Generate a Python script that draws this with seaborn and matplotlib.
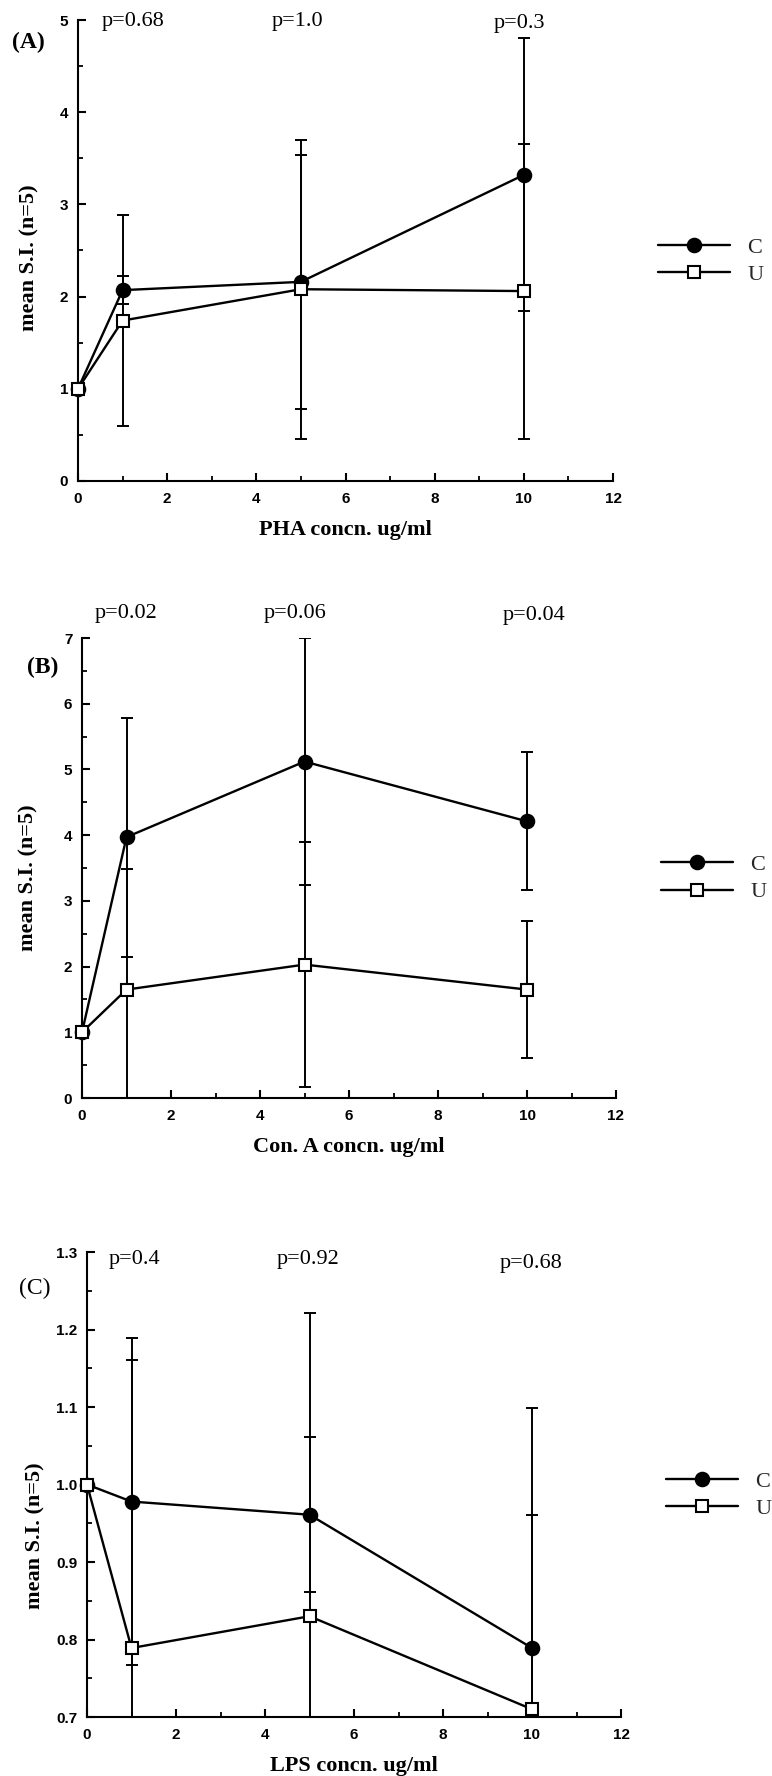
import matplotlib
matplotlib.use("Agg")
import matplotlib.pyplot as plt
from matplotlib.ticker import MultipleLocator, FormatStrFormatter
from matplotlib.transforms import blended_transform_factory
import pandas as pd
import seaborn as sns

# ---- data -------------------------------------------------------------
conc = [0, 1, 5, 10]          # mitogen concentration, ug/ml
groups = ["C", "U"]

# PHA stimulation
pha_c_mean = [1.0, 2.07, 2.16, 3.32]
pha_c_err = [0.0, 0.15, 1.38, 1.48]
pha_u_mean = [1.0, 1.74, 2.08, 2.06]
pha_u_err = [0.0, 1.14, 1.62, 1.60]
pha_p = ["p=0.68", "p=1.0", "p=0.3"]

# Con. A stimulation
cona_c_mean = [1.0, 3.97, 5.12, 4.21]
cona_c_err = [0.0, 1.82, 1.88, 1.05]
cona_u_mean = [1.0, 1.65, 2.03, 1.65]
cona_u_err = [0.0, 1.83, 1.87, 1.04]
cona_p = ["p=0.02", "p=0.06", "p=0.04"]

# LPS stimulation
lps_c_mean = [1.0, 0.978, 0.961, 0.789]
lps_c_err = [0.0, 0.211, 0.10, 0.31]
lps_u_mean = [1.0, 0.789, 0.830, 0.710]
lps_u_err = [0.0, 0.372, 0.391, 0.251]
lps_p = ["p=0.4", "p=0.92", "p=0.68"]

# ---- styling ----------------------------------------------------------
sns.set_theme(style="ticks")
SERIF = ["Liberation Serif", "DejaVu Serif"]
TICKFONT = ["Liberation Sans Narrow", "Liberation Sans", "DejaVu Sans"]
plt.rcParams["font.family"] = SERIF
plt.rcParams["axes.linewidth"] = 1.5

W, H = 772, 1776
fig = plt.figure(figsize=(W / 100, H / 100), dpi=100)


def px_axes(left, top, right, bottom):
    return fig.add_axes([left / W, 1 - bottom / H, (right - left) / W, (bottom - top) / H])


marker_style = {
    "C": dict(marker="o", markersize=10, markerfacecolor="black",
              markeredgecolor="black", markeredgewidth=1.2),
    "U": dict(marker="s", markersize=9, markerfacecolor="white",
              markeredgecolor="black", markeredgewidth=1.5),
}

panels = [
    dict(box=(78, 20, 613, 481), ylim=(0, 5), major=1, minor=0.5, fmt="%d",
         c=(pha_c_mean, pha_c_err), u=(pha_u_mean, pha_u_err), p=pha_p,
         p_x=[1.24, 4.93, 9.9], p_y=[0.996, 0.996, 0.992],
         tag="(A)", tag_xy=(28, 42), tag_weight="bold",
         xlabel="PHA concn. ug/ml", ylab_xy=(-0.090, 0.484)),
    dict(box=(82, 638, 616, 1098), ylim=(0, 7), major=1, minor=0.5, fmt="%d",
         c=(cona_c_mean, cona_c_err), u=(cona_u_mean, cona_u_err), p=cona_p,
         p_x=[0.99, 4.79, 10.16], p_y=[1.054, 1.054, 1.048],
         tag="(B)", tag_xy=(43, 667), tag_weight="bold",
         xlabel="Con. A concn. ug/ml", ylab_xy=(-0.101, 0.48)),
    dict(box=(87, 1252, 621, 1717), ylim=(0.7, 1.3), major=0.1, minor=0.05, fmt="%.1f",
         c=(lps_c_mean, lps_c_err), u=(lps_u_mean, lps_u_err), p=lps_p,
         p_x=[1.06, 4.96, 9.97], p_y=[0.983, 0.983, 0.976],
         tag="(C)", tag_xy=(35, 1288), tag_weight="normal",
         xlabel="LPS concn. ug/ml", ylab_xy=(-0.097, 0.39)),
]

for spec in panels:
    ax = px_axes(*spec["box"])
    ax_h = spec["box"][3] - spec["box"][1]

    handles = []
    for g, (mean, err) in zip(groups, (spec["c"], spec["u"])):
        df = pd.DataFrame({"conc": conc, "si": mean, "err": err})
        bars = df[df["err"] > 0]
        ax.errorbar(bars["conc"], bars["si"], yerr=bars["err"], fmt="none",
                    ecolor="black", elinewidth=1.4, capsize=4.5, capthick=1.4,
                    zorder=2)
        sns.lineplot(data=df, x="conc", y="si", ax=ax, color="black",
                     linewidth=1.7, errorbar=None, clip_on=False, zorder=3,
                     label=g, **marker_style[g])
        handles.append(ax.lines[-1])

    ax.set_xlim(0, 12)
    ax.set_ylim(*spec["ylim"])
    ax.xaxis.set_major_locator(MultipleLocator(2))
    ax.xaxis.set_minor_locator(MultipleLocator(1))
    ax.yaxis.set_major_locator(MultipleLocator(spec["major"]))
    ax.yaxis.set_minor_locator(MultipleLocator(spec["minor"]))
    ax.yaxis.set_major_formatter(FormatStrFormatter(spec["fmt"]))
    ax.tick_params(which="major", direction="in", length=6, width=1.5, color="black")
    ax.tick_params(which="minor", direction="in", length=3.5, width=1.3, color="black")
    ax.tick_params(axis="x", which="major", pad=8)
    ax.tick_params(axis="y", which="major", pad=7)
    for lab in ax.get_xticklabels() + ax.get_yticklabels():
        lab.set_fontfamily(TICKFONT)
        lab.set_fontweight("bold")
        lab.set_fontsize(11)
        lab.set_color("black")
    sns.despine(ax=ax)
    for s in ("left", "bottom"):
        ax.spines[s].set_color("black")
        ax.spines[s].set_linewidth(1.5)

    ax.set_xlabel(spec["xlabel"], fontsize=16, fontweight="bold", color="black", va="center")
    ax.xaxis.set_label_coords(0.5, -49 / ax_h)
    ax.set_ylabel("mean S.I. (n=5)", fontsize=16, fontweight="bold", color="black", va="center")
    ax.yaxis.set_label_coords(*spec["ylab_xy"])

    trans = blended_transform_factory(ax.transData, ax.transAxes)
    for txt, x, y in zip(spec["p"], spec["p_x"], spec["p_y"]):
        ax.text(x, y, txt, transform=trans, ha="center", va="center",
                fontsize=16, color="black")

    fig.text(spec["tag_xy"][0] / W, 1 - spec["tag_xy"][1] / H, spec["tag"],
             ha="center", va="center", fontsize=17, fontweight=spec["tag_weight"],
             color="black")

    ax.legend(handles=handles, labels=groups, loc="center left",
              bbox_to_anchor=(1.085, 0.477), frameon=False, numpoints=1,
              handlelength=3.2, handletextpad=0.8, labelspacing=0.3,
              borderpad=0, borderaxespad=0, prop=dict(family=SERIF, size=16))

fig.savefig("out.png", dpi=100, facecolor="white")
